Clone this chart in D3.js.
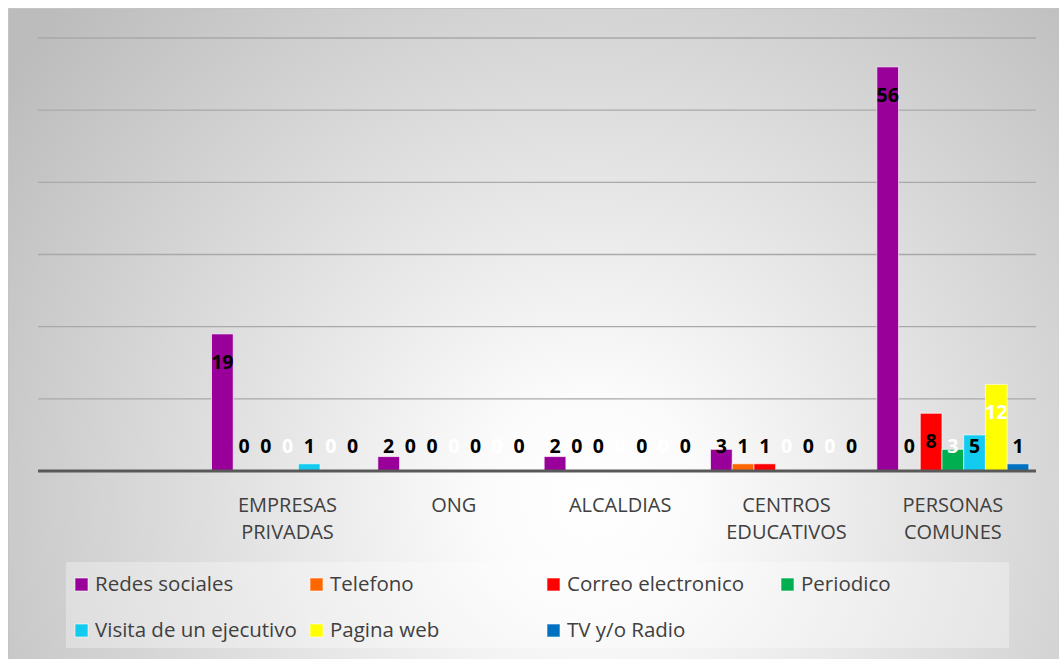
<!DOCTYPE html>
<html>
<head>
<meta charset="utf-8">
<script src="https://cdn.jsdelivr.net/npm/d3@7"></script>
<style>
  html, body { margin: 0; padding: 0; background: #ffffff; }
  svg { display: block; }
  text { font-family: "Open Sans", "Noto Sans", sans-serif; }
</style>
</head>
<body>
<svg id="chart" width="1059" height="659"></svg>
<script>
// Categories (the first slot is an empty row in the source table)
const categories = ["", "EMPRESAS PRIVADAS", "ONG", "ALCALDIAS", "CENTROS EDUCATIVOS", "PERSONAS COMUNES"];

// Series names, in legend order
const seriesNames = ["Redes sociales", "Telefono", "Correo electronico", "Periodico",
                     "Visita de un ejecutivo", "Pagina web", "TV y/o Radio"];

// Values per series, one per category (null = no data)
const redesSociales   = [null, 19, 2, 2, 3, 56];
const telefono        = [null, 0, 0, 0, 1, 0];
const correo          = [null, 0, 0, 0, 1, 8];
const periodico       = [null, 0, 0, 0, 0, 3];
const visitaEjecutivo = [null, 1, 0, 0, 0, 5];
const paginaWeb       = [null, 0, 0, 0, 0, 12];
const tvRadio         = [null, 0, 0, 0, 0, 1];

const seriesValues = [redesSociales, telefono, correo, periodico, visitaEjecutivo, paginaWeb, tvRadio];

// Value axis ticks (gridlines only, no labels drawn)
const yTicks = [0, 10, 20, 30, 40, 50, 60];

const seriesColors = ["#990099", "#FF6600", "#FF0000", "#00B050", "#12CBEE", "#FFFF00", "#0070C0"];
const labelColors  = ["#000", "#000", "#000", "#fff", "#000", "#fff", "#000"];

const svg = d3.select("#chart");
const W = 1059, H = 659;

// Background: radial grey-to-white fill of the chart area
const defs = svg.append("defs");
const grad = defs.append("radialGradient")
  .attr("id", "bg").attr("gradientUnits", "userSpaceOnUse")
  .attr("cx", 590).attr("cy", 500).attr("r", 720);
grad.append("stop").attr("offset", "0").attr("stop-color", "#ffffff");
grad.append("stop").attr("offset", "0.15").attr("stop-color", "#fbfbfb");
grad.append("stop").attr("offset", "1").attr("stop-color", "#bcbcbc");

svg.append("rect").attr("x", 8.5).attr("y", 8.5)
  .attr("width", W).attr("height", H)
  .attr("fill", "url(#bg)").attr("stroke", "#c4c4c4").attr("stroke-width", 1);

// Scales
const plot = { left: 38, right: 1036, top: 38, bottom: 471 };
const x0 = d3.scaleBand().domain(categories).range([plot.left, plot.right]).padding(0);
const x1 = d3.scaleBand().domain(seriesNames).range([0, x0.bandwidth()])
  .paddingInner(0).paddingOuter(0.33);
const y = d3.scaleLinear().domain([0, 60]).range([plot.bottom, plot.top]);

// Gridlines
svg.append("g").selectAll("line").data(yTicks.filter(t => t > 0)).join("line")
  .attr("x1", plot.left).attr("x2", plot.right)
  .attr("y1", d => y(d)).attr("y2", d => y(d))
  .attr("stroke", "#a9a9a9").attr("stroke-width", 1.4);

// Bars
const barData = [];
categories.forEach((c, ci) => {
  seriesNames.forEach((s, si) => {
    const v = seriesValues[si][ci];
    if (v !== null) barData.push({ c, s, si, v });
  });
});

svg.append("g").selectAll("rect").data(barData.filter(d => d.v > 0)).join("rect")
  .attr("x", d => x0(d.c) + x1(d.s))
  .attr("y", d => y(d.v))
  .attr("width", x1.bandwidth())
  .attr("height", d => y(0) - y(d.v))
  .attr("fill", d => seriesColors[d.si])
  .attr("stroke", "rgba(255,255,255,0.65)").attr("stroke-width", 1);

// Category axis line
svg.append("line")
  .attr("x1", plot.left).attr("x2", plot.right)
  .attr("y1", y(0)).attr("y2", y(0))
  .attr("stroke", "#595959").attr("stroke-width", 3);

// Data labels (inside end, kept above the axis for short bars)
svg.append("g").selectAll("text").data(barData).join("text")
  .attr("x", d => x0(d.c) + x1(d.s) + x1.bandwidth() / 2)
  .attr("y", d => Math.min(y(d.v) + 28, 446) + 7)
  .attr("text-anchor", "middle")
  .attr("font-size", 19.5).attr("font-weight", 700)
  .attr("fill", d => labelColors[d.si])
  .text(d => d.v);

// Category labels, wrapped on spaces
const catG = svg.append("g");
categories.forEach(c => {
  if (!c) return;
  const words = c.split(" ");
  const t = catG.append("text")
    .attr("text-anchor", "middle")
    .attr("font-size", 20).attr("fill", "#404040");
  words.forEach((w, i) => {
    t.append("tspan")
      .attr("x", x0(c) + x0.bandwidth() / 2)
      .attr("y", 512 + i * 27)
      .text(w);
  });
});

// Legend
svg.append("rect").attr("x", 66).attr("y", 562).attr("width", 943).attr("height", 86)
  .attr("fill", "rgba(255,255,255,0.32)");

const legendCols = [75, 310, 547, 781];
const legendRows = [591, 637];
const lg = svg.append("g").selectAll("g").data(seriesNames).join("g")
  .attr("transform", (d, i) => `translate(${legendCols[i % 4]},${legendRows[Math.floor(i / 4)]})`);
lg.append("rect").attr("x", 0).attr("y", -13).attr("width", 13).attr("height", 13)
  .attr("fill", (d, i) => seriesColors[i])
  .attr("stroke", "rgba(255,255,255,0.6)").attr("stroke-width", 1);
lg.append("text").attr("x", 20).attr("y", 0)
  .attr("font-size", 20.5).attr("fill", "#404040")
  .text(d => d);
</script>
</body>
</html>
